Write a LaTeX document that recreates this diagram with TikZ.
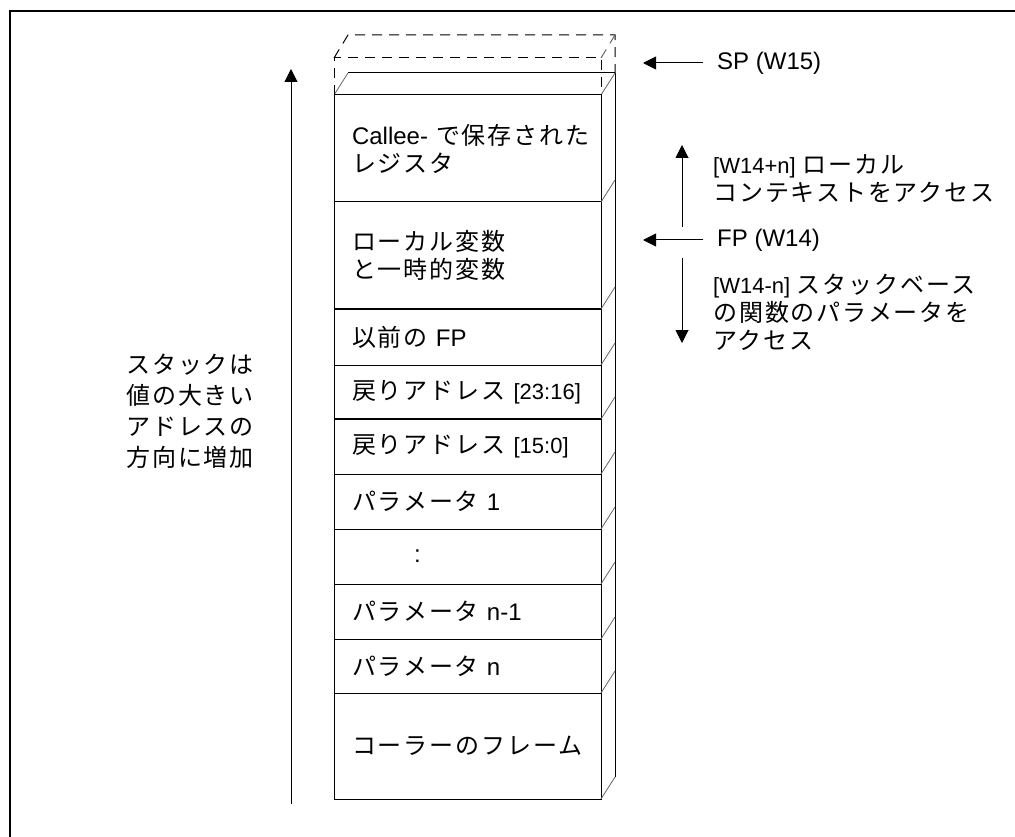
\documentclass[tikz,border=0pt]{standalone}
\usepackage{fontspec}
\setmainfont{Liberation Sans}
\newfontfamily\jpfont[LetterSpace=8]{Noto Sans CJK JP}
\newcommand{\jpt}[1]{{\jpfont #1}}
\newcommand{\smallbr}[1]{{\fontsize{22pt}{26pt}\selectfont #1}}
\usetikzlibrary{arrows.meta,calc}
\hfuzz=100pt
\begin{document}
\begin{tikzpicture}[x=1pt,y=-1pt,
  txt/.style={font=\fontsize{24pt}{28pt}\selectfont, inner sep=0pt, align=left, text=black},
  cell/.style={draw, line width=1pt, anchor=north west, outer sep=0pt,
    text width=231pt, inner xsep=18pt, inner ysep=0pt, align=left,
    minimum height=#1, font=\fontsize{24pt}{28pt}\selectfont},
  side/.style={draw=black!60, line width=0.8pt},
  back/.style={draw=black, line width=1pt},
  slot/.style={draw=black, line width=1pt, dash pattern=on 10pt off 7pt},
  arr/.style={line width=1pt, -{Triangle[length=13pt,width=13pt]}}
]
\useasboundingbox (0,0) rectangle (1015,837);
% frame
\draw[line width=1.5pt] (10,837) -- (10,11) -- (1015,11);

% stack cells
\node[cell=107] (c1) at (334,95) {\mbox{Callee- \jpt{で保存された}}\\\jpt{レジスタ}};
\node[cell=107] (c2) at (c1.south west) {\jpt{ローカル変数}\\\jpt{と一時的変数}};
\node[cell=56] (c3) at (c2.south west) {\jpt{以前の} FP};
\node[cell=54] (c4) at (c3.south west) {\mbox{\jpt{戻りアドレス} \smallbr{[23:16]}}};
\node[cell=55] (c5) at (c4.south west) {\mbox{\jpt{戻りアドレス} \smallbr{[15:0]}}};
\node[cell=55] (c6) at (c5.south west) {\jpt{パラメータ} 1};
\node[cell=55] (c7) at (c6.south west) {\hspace*{62pt}:};
\node[cell=55] (c8) at (c7.south west) {\jpt{パラメータ} n-1};
\node[cell=54] (c9) at (c8.south west) {\jpt{パラメータ} n};
\node[cell=106] (c10) at (c9.south west) {\jpt{コーラーのフレーム}};
% slightly heavier separators
\draw[line width=1.6pt] (c3.north west) -- (c3.north east);
\draw[line width=1.6pt] (c5.north west) -- (c5.north east);

% 3D side
\draw[side] (c1.north west) -- ++(14,-22);
\draw[back] ($(c1.north west)+(14,-22)$) -- ($(c1.north east)+(14,-22)$);
\draw[back] ($(c1.north east)+(14,-22)$) -- ($(c10.south east)+(14,-22)$);
\foreach \c in {c1,c2,c3,c4,c5,c6,c7,c8,c9,c10}{
  \draw[side] (\c.north east) -- ++(14,-22);
}
\draw[side] (c10.south east) -- ++(14,-22);

% dashed slot (SP)
\draw[slot] (c1.north west) -- ++(0,-37) -- ($(c1.north east)+(0,-37)$) -- (c1.north east);
\draw[slot] ($(c1.north west)+(0,-37)$) -- ++(14,-23) -- ++(267,0) -- ++(0,38);
\draw[slot, draw=black!60] ($(c1.north east)+(0,-37)$) -- ++(14,-23);

% right labels
\coordinate (sptip) at (643,63);
\node[txt, anchor=west] (sp) at (717,63) {SP (W15)};
\draw[arr] ($(sp.west)+(-14,0)$) -- (sptip);

\coordinate (fptip) at (643,240);
\node[txt, anchor=west] (fp) at (717,240) {FP (W14)};
\draw[arr] ($(fp.west)+(-14,0)$) -- (fptip);

\node[txt, anchor=west] (up) at (713,179) {\smallbr{[W14+n]} \jpt{ローカル}\\\jpt{コンテキストをアクセス}};
\node[txt, anchor=west] (dn) at (713,312) {\smallbr{[W14-n]} \jpt{スタックベース}\\\jpt{の関数のパラメータを}\\\jpt{アクセス}};
\coordinate (upb) at (682,227);
\coordinate (upt) at (682,145);
\coordinate (dnb) at (682,258);
\coordinate (dnt) at (682,343);
\draw[arr] (upb) -- (upt);
\draw[arr] (dnb) -- (dnt);

% growth arrow and label
\coordinate (gb) at (291,804);
\coordinate (gt) at (291,69);
\draw[arr] (gb) -- (gt);
\node[txt, anchor=west, font=\fontsize{24pt}{31pt}\selectfont] (grow) at (126,411)
  {\jpt{スタックは}\\\jpt{値の大きい}\\\jpt{アドレスの}\\\jpt{方向に増加}};
\end{tikzpicture}
\end{document}
